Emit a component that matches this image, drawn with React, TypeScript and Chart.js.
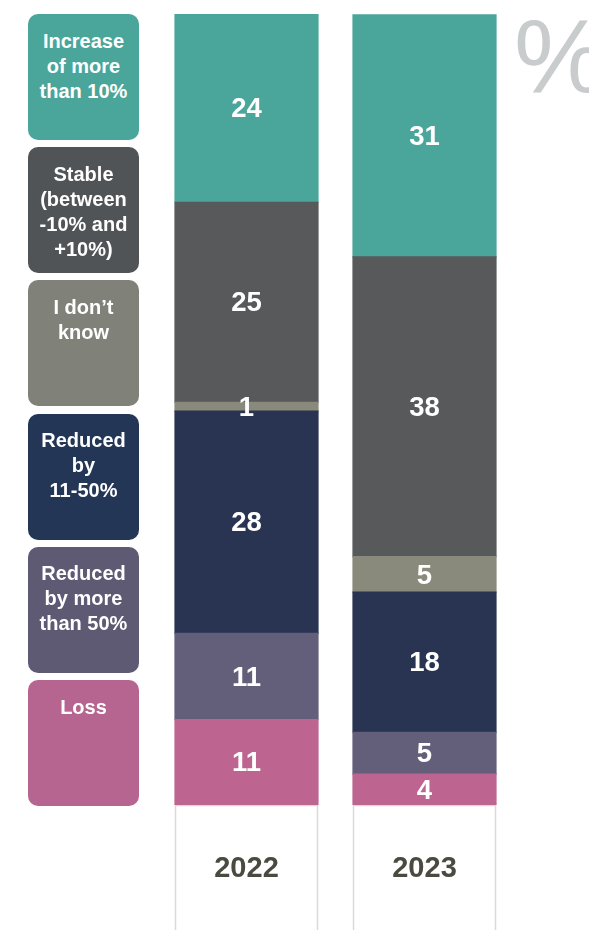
import React, { useEffect, useRef } from "react";
import { Chart, registerables } from "chart.js";

Chart.register(...registerables);

const years = ["2022", "2023"];
const loss = [10.8, 3.9];
const reducedMore50 = [10.9, 5.3];
const reduced11to50 = [28.1, 17.7];
const dontKnow = [1.1, 4.5];
const stable = [25.3, 37.9];
const increase = [23.8, 30.6];

const seriesNames = [
  "Loss",
  "Reduced by more than 50%",
  "Reduced by 11-50%",
  "I don’t know",
  "Stable (between -10% and +10%)",
  "Increase of more than 10%",
];
const barColors = ["#BD6490", "#635E7A", "#283452", "#898A7C", "#58595B", "#4AA59B"];

const legendItems = [
  { lines: ["Increase", "of more", "than 10%"], color: "#4AA59A" },
  { lines: ["Stable", "(between", "-10% and", "+10%)"], color: "#515457" },
  { lines: ["I don’t", "know"], color: "#80827A" },
  { lines: ["Reduced", "by", "11-50%"], color: "#243656" },
  { lines: ["Reduced", "by more", "than 50%"], color: "#5E5A74" },
  { lines: ["Loss"], color: "#B66590" },
];

const FONT = '"Liberation Sans", Arial, Helvetica, sans-serif';

const overlayPlugin = {
  id: "overlay",
  beforeDatasetsDraw(chart: any) {
    const { ctx, chartArea } = chart;
    const meta = chart.getDatasetMeta(0);
    ctx.save();
    meta.data.forEach((bar: any, i: number) => {
      const w = bar.width;
      const x0 = Math.round(bar.x - w / 2) + 0.5;
      const y0 = Math.round(chartArea.bottom) + 0.5;
      ctx.fillStyle = "#ffffff";
      ctx.fillRect(x0, y0, w - 1, chart.height - y0 + 20);
      ctx.strokeStyle = "#d9d9d9";
      ctx.lineWidth = 1.5;
      ctx.strokeRect(x0, y0, w - 1, chart.height - y0 + 20);
      ctx.fillStyle = "#4a4a40";
      ctx.font = `bold 29px ${FONT}`;
      ctx.textAlign = "center";
      ctx.textBaseline = "middle";
      ctx.fillText(years[i], bar.x, 869);
    });
    ctx.restore();
  },
  afterDatasetsDraw(chart: any) {
    const { ctx } = chart;
    ctx.save();
    ctx.fillStyle = "#ffffff";
    ctx.font = `bold 27.5px ${FONT}`;
    ctx.textAlign = "center";
    ctx.textBaseline = "middle";
    chart.data.datasets.forEach((ds: any, di: number) => {
      const meta = chart.getDatasetMeta(di);
      meta.data.forEach((bar: any, i: number) => {
        const v = ds.data[i];
        const yc = (bar.y + bar.base) / 2;
        ctx.fillText(String(Math.round(v)), bar.x, yc + 1.5);
      });
    });
    ctx.restore();
  },
};

export default function App() {
  const ref = useRef<HTMLCanvasElement>(null);
  useEffect(() => {
    const values = [loss, reducedMore50, reduced11to50, dontKnow, stable, increase];
    const chart = new Chart(ref.current!, {
      type: "bar",
      data: {
        labels: years,
        datasets: values.map((d, i) => ({
          label: seriesNames[i],
          data: d,
          backgroundColor: barColors[i],
          borderWidth: 0,
          inflateAmount: 0.6,
          barPercentage: 1,
          categoryPercentage: 143 / 178,
        })),
      },
      options: {
        responsive: false,
        animation: false,
        layout: { padding: { left: 157.5, right: 75.5, top: 14, bottom: 125 } },
        scales: {
          x: { stacked: true, display: false },
          y: { stacked: true, display: false, min: 0, max: 100 },
        },
        plugins: { legend: { display: false }, tooltip: { enabled: false } },
      },
      plugins: [overlayPlugin],
    });
    return () => chart.destroy();
  }, []);

  return (
    <div
      style={{
        position: "absolute",
        left: 0,
        top: 0,
        width: 589,
        height: 930,
        overflow: "hidden",
        background: "#ffffff",
        fontFamily: FONT,
      }}
    >
      <canvas ref={ref} width={589} height={930} style={{ position: "absolute", left: 0, top: 0 }} />
      {legendItems.map((it, i) => (
        <div
          key={i}
          style={{
            position: "absolute",
            left: 28,
            top: 14 + i * 133.2,
            width: 111,
            height: 126,
            borderRadius: 10,
            background: it.color,
            color: "#ffffff",
            fontWeight: "bold",
            fontSize: 20,
            lineHeight: "25px",
            textAlign: "center",
            paddingTop: 14.5,
            boxSizing: "border-box",
          }}
        >
          {it.lines.map((l, j) => (
            <div key={j}>{l}</div>
          ))}
        </div>
      ))}
      <div
        style={{
          position: "absolute",
          left: 514,
          top: 4,
          fontSize: 104,
          lineHeight: "104px",
          color: "#C9CCCC",
          fontFamily: FONT,
        }}
      >
        %
      </div>
    </div>
  );
}
